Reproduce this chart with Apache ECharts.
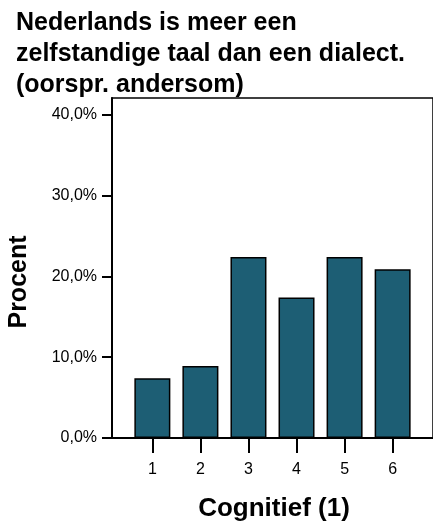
<!DOCTYPE html>
<html>
<head>
<meta charset="utf-8">
<script src="https://cdn.jsdelivr.net/npm/echarts@6/dist/echarts.min.js"></script>
<style>html,body{margin:0;padding:0;background:#fff}#c{width:433px;height:531px}</style>
</head>
<body>
<div id="c"></div>
<script>
const titleText = "Nederlands is meer een\nzelfstandige taal dan een dialect.\n(oorspr. andersom)";
const categories = [1, 2, 3, 4, 5, 6];
const percentages = [7.4, 8.9, 22.4, 17.4, 22.4, 20.9];
const yTicks = [0, 10, 20, 30, 40];
const xTitle = "Cognitief (1)";
const yTitle = "Procent";

const chart = echarts.init(document.getElementById('c'), null, {renderer: 'canvas'});
const FONT = 'Liberation Sans, Arial, sans-serif';
chart.setOption({
  animation: false,
  backgroundColor: '#fff',
  title: {
    text: titleText,
    left: 11, top: 3,
    textStyle: {fontFamily: FONT, fontSize: 25, fontWeight: 'bold', color: '#000', lineHeight: 31}
  },
  graphic: [
    {type: 'text', id: 'xt', x: 274, y: 509, style: {text: xTitle, font: 'bold 26px ' + FONT, fill: '#000', align: 'center', verticalAlign: 'middle'}, silent: true},
    {type: 'text', id: 'yt', x: 19, y: 282, rotation: Math.PI / 2, style: {text: yTitle, font: 'bold 25px ' + FONT, fill: '#000', align: 'center', verticalAlign: 'middle'}, silent: true}
  ],
  grid: {left: 112, right: -4, top: 98, bottom: 93, show: true, borderColor: '#000', borderWidth: 1.5, backgroundColor: 'transparent'},
  xAxis: {
    type: 'value', min: 0.16, max: 6.84,
    axisLine: {show: true, lineStyle: {color: '#000', width: 2}},
    axisTick: {show: true, length: 15, lineStyle: {color: '#000', width: 2}, customValues: categories},
    axisLabel: {fontFamily: FONT, fontSize: 16, color: '#000', margin: 24, customValues: categories},
    splitLine: {show: false}
  },
  yAxis: {
    type: 'value', min: 0, max: 42.1,
    axisLine: {show: true, lineStyle: {color: '#000', width: 2}},
    axisTick: {show: true, length: 10, lineStyle: {color: '#000', width: 2}, customValues: yTicks},
    axisLabel: {fontFamily: FONT, fontSize: 16, color: '#000', margin: 15, customValues: yTicks,
      formatter: v => v.toFixed(1).replace('.', ',') + '%'},
    splitLine: {show: false}
  },
  series: [{
    type: 'bar',
    data: categories.map((c, i) => [c, percentages[i]]),
    barWidth: 36,
    itemStyle: {color: '#1d5e74', borderColor: '#000', borderWidth: 1.5}
  }]
});
</script>
</body>
</html>
